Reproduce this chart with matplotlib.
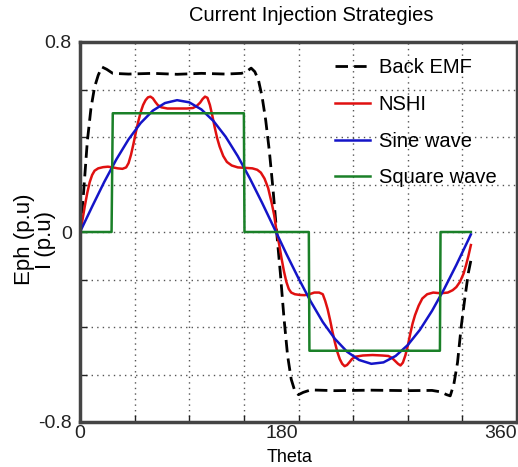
import matplotlib
matplotlib.use("Agg")
import matplotlib.pyplot as plt

plt.rcParams['font.family'] = ['Liberation Sans', 'DejaVu Sans']

# ---- data ----
emf_theta = [0, 1, 3, 6, 9, 12, 15, 18, 22, 27, 40, 60, 80, 100, 120, 133, 137, 141, 144,
             147, 150, 153, 156, 159, 162, 165, 168, 171, 174, 177, 180, 184, 190, 210,
             240, 270, 290, 297, 302, 305, 308, 311, 314, 317, 320, 322]
emf_val = [0.0, 0.05, 0.17, 0.38, 0.52, 0.61, 0.66, 0.695, 0.685, 0.668, 0.665, 0.668,
           0.664, 0.668, 0.665, 0.668, 0.675, 0.69, 0.675, 0.64, 0.57, 0.47, 0.34, 0.18,
           0.0, -0.17, -0.36, -0.52, -0.62, -0.67, -0.685, -0.675, -0.665, -0.668, -0.666,
           -0.668, -0.667, -0.673, -0.685, -0.69, -0.64, -0.55, -0.40, -0.28, -0.17, -0.12]

nshi_theta = [0, 2, 4, 6, 8, 10, 12, 15, 19, 23, 27, 31, 35, 38, 40, 42, 44, 46, 48, 50,
              52, 54, 56, 58, 60, 62, 64, 67, 72, 80, 88, 93, 96, 99, 101, 103, 105, 107,
              109, 111, 113, 115, 118, 121, 125, 130, 136, 142, 146, 149, 152, 155, 158,
              160, 162,
              164, 166, 168, 170, 172, 174, 177, 181, 185, 189, 193, 197, 200, 202, 204,
              206, 208, 210, 212, 214, 216, 218, 220, 222, 224, 227, 233, 241, 249, 254,
              257, 260, 262, 264, 266, 268, 270, 272, 274, 276, 279, 282, 286, 291, 297,
              303, 307, 310, 313, 316, 318, 320, 322]
nshi_val = [0.0, 0.05, 0.11, 0.165, 0.21, 0.24, 0.258, 0.268, 0.273, 0.275, 0.272, 0.268,
            0.266, 0.272, 0.29, 0.325, 0.37, 0.42, 0.465, 0.505, 0.535, 0.555, 0.567, 0.57,
            0.563, 0.548, 0.535, 0.525, 0.52, 0.52, 0.52, 0.522, 0.53, 0.545, 0.56, 0.57,
            0.565, 0.535, 0.49, 0.44, 0.395, 0.36, 0.32, 0.295, 0.28, 0.272, 0.27, 0.268,
            0.262, 0.25, 0.225, 0.185, 0.12, 0.07, 0.0,
            -0.05, -0.11, -0.165, -0.21, -0.24, -0.255, -0.262, -0.265, -0.266, -0.262,
            -0.255, -0.255, -0.262, -0.29, -0.325, -0.37, -0.42, -0.465, -0.505, -0.535,
            -0.555, -0.565, -0.56, -0.548, -0.535, -0.525, -0.52, -0.518, -0.52, -0.522,
            -0.53, -0.545, -0.555, -0.562, -0.55, -0.52, -0.48, -0.43, -0.385, -0.35,
            -0.31, -0.28, -0.262, -0.255, -0.258, -0.255, -0.245, -0.232, -0.21, -0.175,
            -0.14, -0.10, -0.055]

sine_theta = [0, 10, 20, 30, 40, 50, 60, 70, 80, 90, 100, 110, 120, 130, 140, 150, 160,
              170, 180, 190, 200, 210, 220, 230, 240, 250, 260, 270, 280, 290, 300, 310,
              320, 322]
sine_val = [0.0, 0.107, 0.211, 0.306, 0.390, 0.459, 0.511, 0.543, 0.555, 0.546, 0.516,
            0.467, 0.401, 0.319, 0.225, 0.123, 0.016, -0.092, -0.195, -0.292, -0.379,
            -0.450, -0.504, -0.539, -0.555, -0.549, -0.522, -0.476, -0.412, -0.332,
            -0.240, -0.139, -0.032, -0.01]

square_theta = [0, 26, 27, 135, 135.5, 188.5, 189, 296.5, 297, 322]
square_val = [0.0, 0.0, 0.5, 0.5, 0.0, 0.0, -0.5, -0.5, 0.0, 0.0]

xtick_vals = [0, 45, 90, 135, 180, 225, 270, 315, 360]
xtick_labels = ['0', '', '', '', '180', '', '', '', '360']
ytick_vals = [-0.8, -0.6, -0.4, -0.2, 0, 0.2, 0.4, 0.6, 0.8]
ytick_labels = ['-0.8', '', '', '', '0', '', '', '', '0.8']

# ---- figure ----
fig = plt.figure(figsize=(5.18, 4.67), dpi=100)
ax = fig.add_axes([80 / 518, 1 - 422 / 467, 437 / 518, 380 / 467])

ax.plot(emf_theta, emf_val, color='black', lw=2.0, ls=(0, (4.5, 2.2)), label='Back EMF')
ax.plot(nshi_theta, nshi_val, color='#e01010', lw=1.8, label='NSHI')
ax.plot(sine_theta, sine_val, color='#1414c8', lw=1.8, label='Sine wave')
ax.plot(square_theta, square_val, color='#1a8028', lw=1.8, label='Square wave')

ax.set_xlim(0, 360)
ax.set_ylim(-0.8, 0.8)
ax.set_xticks(xtick_vals)
ax.set_xticklabels(xtick_labels)
ax.set_yticks(ytick_vals)
ax.set_yticklabels(ytick_labels)
ax.tick_params(direction='in', length=5, width=1, labelsize=14, colors='#222222')
ax.tick_params(axis='x', pad=2)
ax.tick_params(axis='y', pad=6)
ax.grid(True, ls=(0, (1, 3)), color='#555555', lw=1.0)

xl = ax.get_xticklabels()
xl[4].set_ha('right')
xl[8].set_ha('right')

for s in ax.spines.values():
    s.set_linewidth(2.5)
    s.set_color('#444444')

ax.set_title('Current Injection Strategies', fontsize=14.5, pad=15, x=0.53)
ax.set_xlabel('Theta', fontsize=13, labelpad=1)
ax.xaxis.set_label_coords(0.48, -0.07)
ax.set_ylabel('Eph (p.u)\nI (p.u)', fontsize=16, linespacing=1.0)
ax.yaxis.set_label_coords(-0.055, 0.48)

leg = ax.legend(loc='upper right', frameon=False, fontsize=14.5, handlelength=1.7,
                labelspacing=0.88, handletextpad=0.45, borderaxespad=0.4,
                bbox_to_anchor=(0.99, 1.0))

fig.savefig('out.png', dpi=100)
